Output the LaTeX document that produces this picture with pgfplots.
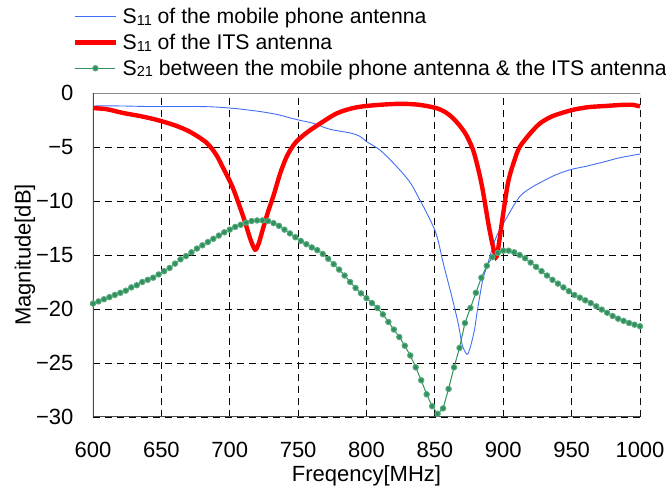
\documentclass[border=0pt]{standalone}
\usepackage{fontspec}
\setmainfont{Liberation Sans}
\usepackage{pgfplots}
\pgfplotsset{compat=1.18}
\definecolor{mobblue}{RGB}{65,110,245}
\definecolor{itsred}{RGB}{255,0,0}
\definecolor{sgreen}{RGB}{46,145,92}
\newcommand{\sub}[1]{\raisebox{-0.15ex}{\fontsize{14.5}{15}\selectfont #1}}
\begin{document}
\begin{tikzpicture}
\begin{axis}[
width=547pt, height=324pt, scale only axis,
xmin=600, xmax=1000, ymin=-30, ymax=0,
xtick={600,650,...,1000},
ytick={-30,-25,...,0},
yticklabels={−30,−25,−20,−15,−10,−5,0},
/pgf/number format/1000 sep={},
/pgf/number format/assume math mode=true,
major tick length=0pt,
grid=major,
major grid style={black, dash pattern=on 7pt off 5pt, line width=0.8pt},
axis line style={draw=none},
tick label style={font=\fontsize{22}{26}\selectfont},
xticklabel style={yshift=-22pt},
yticklabel style={xshift=-16pt},
xlabel={Freqency[MHz]},
ylabel={Magnitude[dB]},
label style={font=\fontsize{22}{26}\selectfont},
xlabel style={yshift=-1pt},
ylabel style={yshift=-6pt},
legend cell align=left,
legend style={draw=none, fill=none, at={(rel axis cs:-0.042,1.275)}, anchor=north west,
  font=\fontsize{21.2}{24}\selectfont, row sep=5pt,
  /tikz/every odd column/.append style={column sep=3pt}},
legend image code/.code={\draw[mark repeat=2,mark phase=2,#1] plot coordinates {(0pt,0pt) (20pt,0pt) (40pt,0pt)};},
]
\addplot[mobblue, line width=0.9pt, smooth] coordinates {
(600,-1.2) (620,-1.2) (640,-1.25) (660,-1.25) (676,-1.25) (690,-1.3) (705,-1.45) (715,-1.6)
(724,-1.75) (735,-2.0) (744,-2.3) (752,-2.55) (761,-2.8) (773,-3.35) (788,-3.7) (795,-4.0)
(800,-4.5) (810,-5.3) (822,-6.8) (832,-8.3) (839,-9.9) (844,-11.1) (850,-12.7) (853,-14.0)
(856,-15.7) (862.5,-18.9) (867,-21.3) (870,-23.3) (873.5,-24.2) (876,-23.5) (879,-21.9)
(881,-20.2) (885,-17.3) (888,-16.1) (891,-14.8) (895,-13.3) (902.7,-11.5) (912,-9.6)
(920,-8.8) (927,-8.3) (938,-7.6) (949,-7.1) (960,-6.8) (973,-6.4) (985,-6.0) (1000,-5.65)};
\addlegendentry{S\sub{11} of the mobile phone antenna}
\addplot[itsred, line width=4.4pt, smooth] coordinates {
(600,-1.4) (610,-1.5) (622,-1.85) (635,-2.15) (647,-2.5) (660,-3.0) (671,-3.6) (683,-4.6)
(690,-5.7) (695,-6.9) (702,-8.7) (710,-11.5) (715,-13.5) (718.5,-14.5) (721,-14.0) (724,-12.7)
(728,-11.0) (732,-9.5) (737,-7.4) (742,-5.8) (748,-4.6) (756,-3.7) (764,-3.0) (778,-1.9)
(790,-1.4) (800,-1.2) (815,-1.05) (827,-1.0) (839,-1.1) (851,-1.4) (858,-1.8) (863,-2.3)
(868,-3.0) (873,-3.9) (878,-5.3) (882,-7.2) (885,-9.0) (890,-12.7) (894.7,-15.2) (897,-13.8)
(899,-12.0) (903.5,-8.3) (908,-6.3) (912,-5.0) (920,-3.7) (927,-2.8) (935,-2.2) (944,-1.8)
(953,-1.5) (963,-1.3) (975,-1.2) (987,-1.1) (995,-1.1) (1000,-1.25)};
\addlegendentry{S\sub{11} of the ITS antenna}
\addplot[sgreen, line width=1pt, mark=*, mark size=2.7pt, mark options={fill=sgreen, draw=sgreen!80!white}] coordinates {
(600,-19.5) (604,-19.3) (608,-19.1) (612,-18.9) (616,-18.7) (620,-18.5) (624,-18.3) (628,-18.0)
(632,-17.8) (636,-17.5) (640,-17.3) (644,-17.1) (648,-16.8) (652,-16.5) (656,-16.2) (660,-15.8)
(664,-15.4) (668,-15.1) (672,-14.75) (676,-14.4) (680,-14.1) (684,-13.8) (688,-13.5) (692,-13.2)
(696,-12.9) (700,-12.65) (704,-12.4) (708,-12.2) (712,-12.0) (716,-11.85) (720,-11.8) (724,-11.8)
(728,-11.85) (732,-12.05) (736,-12.3) (740,-12.65) (744,-13.0) (748,-13.35) (752,-13.7) (756,-14.0)
(760,-14.3) (764,-14.55) (768,-14.9) (772,-15.35) (776,-15.85) (780,-16.35) (784,-16.9) (788,-17.5)
(792,-18.05) (796,-18.55) (800,-19.0) (804,-19.45) (808,-19.9) (812,-20.5) (816,-21.2) (820,-21.9)
(824,-22.6) (828,-23.4) (832,-24.3) (836,-25.4) (840,-26.6) (844,-27.9) (848,-29.0) (852,-29.7)
(856,-29.2) (860,-27.4) (864,-25.4) (868,-23.6) (872,-21.3) (876,-19.9) (880,-18.5) (884,-17.1)
(888,-16.0) (892,-15.2) (896,-14.8) (900,-14.6) (904,-14.6) (908,-14.75) (912,-15.0) (916,-15.3)
(920,-15.7) (924,-16.1) (928,-16.5) (932,-16.9) (936,-17.3) (940,-17.65) (944,-18.0) (948,-18.35)
(952,-18.7) (956,-18.95) (960,-19.2) (964,-19.45) (968,-19.75) (972,-20.05) (976,-20.35) (980,-20.65)
(984,-20.9) (988,-21.1) (992,-21.3) (996,-21.45) (1000,-21.6)};
\addlegendentry{S\sub{21} between the mobile phone antenna \& the ITS antenna}
\draw[black!45, line width=0.9pt] (rel axis cs:0,1) -- (rel axis cs:1,1) -- (rel axis cs:1,0);
\draw[black!70, line width=2pt] (rel axis cs:0,1) -- (rel axis cs:0,0) -- (rel axis cs:1,0);
\coordinate (bl) at (rel axis cs:0,0);
\coordinate (tr) at (rel axis cs:1,1);
\end{axis}
\pgfresetboundingbox
\path (bl) ++(-93pt,-72pt) coordinate (pbl);
\path (tr) ++(26pt,93pt) coordinate (ptr);
\useasboundingbox (pbl) rectangle (ptr);
\end{tikzpicture}
\end{document}
